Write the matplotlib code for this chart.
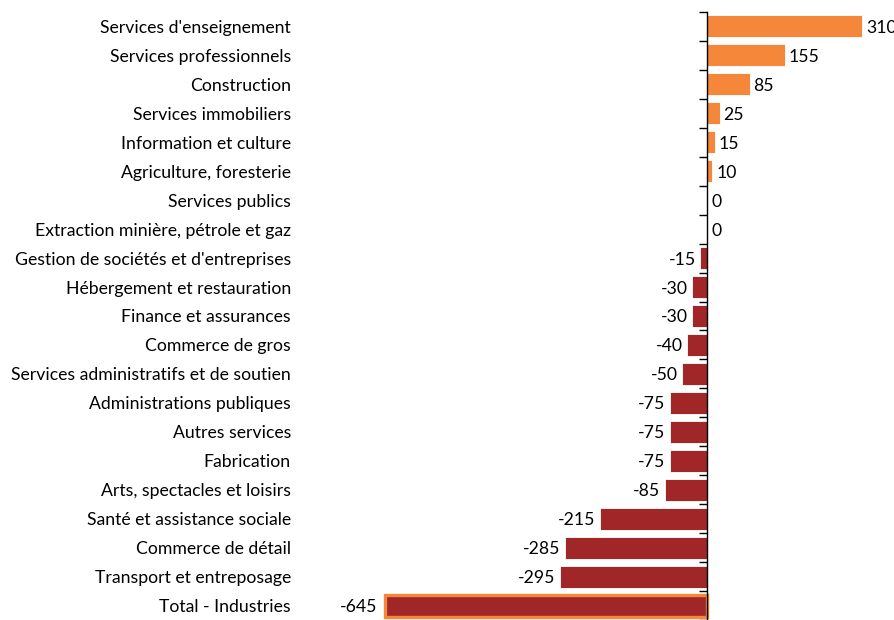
import matplotlib
matplotlib.use("Agg")
import matplotlib.pyplot as plt
import matplotlib.transforms as mtransforms
import numpy as np

categories = [
    "Services d'enseignement", "Services professionnels", "Construction",
    "Services immobiliers", "Information et culture", "Agriculture, foresterie",
    "Services publics", "Extraction minière, pétrole et gaz",
    "Gestion de sociétés et d'entreprises", "Hébergement et restauration",
    "Finance et assurances", "Commerce de gros",
    "Services administratifs et de soutien", "Administrations publiques",
    "Autres services", "Fabrication", "Arts, spectacles et loisirs",
    "Santé et assistance sociale", "Commerce de détail",
    "Transport et entreposage", "Total - Industries",
]
values = [310, 155, 85, 25, 15, 10, 0, 0, -15, -30, -30, -40, -50, -75, -75,
          -75, -85, -215, -285, -295, -645]

ORANGE = "#F5873A"
DARKRED = "#A02628"

plt.rcParams['font.family'] = ['Lato', 'DejaVu Sans']

fig = plt.figure(figsize=(8.95, 6.2), dpi=100)
ax = fig.add_axes([291/895, 0, 1 - 291/895, 1 - 12/620])

n = len(categories)
y = np.arange(n)
colors = [ORANGE if v > 0 else DARKRED for v in values]
bars = ax.barh(y, values, height=0.76, color=colors, edgecolor='white', linewidth=0.6, zorder=2)
# Total bar highlighted
bars[-1].set_edgecolor(ORANGE)
bars[-1].set_linewidth(2.4)

ax.set_ylim(n - 0.5, -0.5)
ax.set_xlim(-832, 376)

for s in ['top', 'right', 'bottom']:
    ax.spines[s].set_visible(False)
ax.spines['left'].set_position(('data', 0))
ax.spines['left'].set_color('black')
ax.spines['left'].set_linewidth(1.0)
ax.spines['left'].set_zorder(3)

ax.set_xticks([])
ax.set_yticks(np.arange(-0.5, n, 1.0))
ax.set_yticklabels([])
ax.tick_params(axis='y', direction='out', length=6, width=1, color='black')

FS = 12.7
trans = mtransforms.blended_transform_factory(ax.transAxes, ax.transData)
for i, c in enumerate(categories):
    ax.text(0, i, c, transform=trans, ha='right', va='center_baseline', fontsize=FS, color='black')

for i, v in enumerate(values):
    if v >= 0:
        ax.text(v + 8, i, f"{v}", ha='left', va='center_baseline', fontsize=FS, color='black')
    else:
        ax.text(v - 8 - (6 if i == n - 1 else 0), i, f"{v}", ha='right', va='center_baseline', fontsize=FS, color='black')

fig.savefig("out.png", dpi=100)
